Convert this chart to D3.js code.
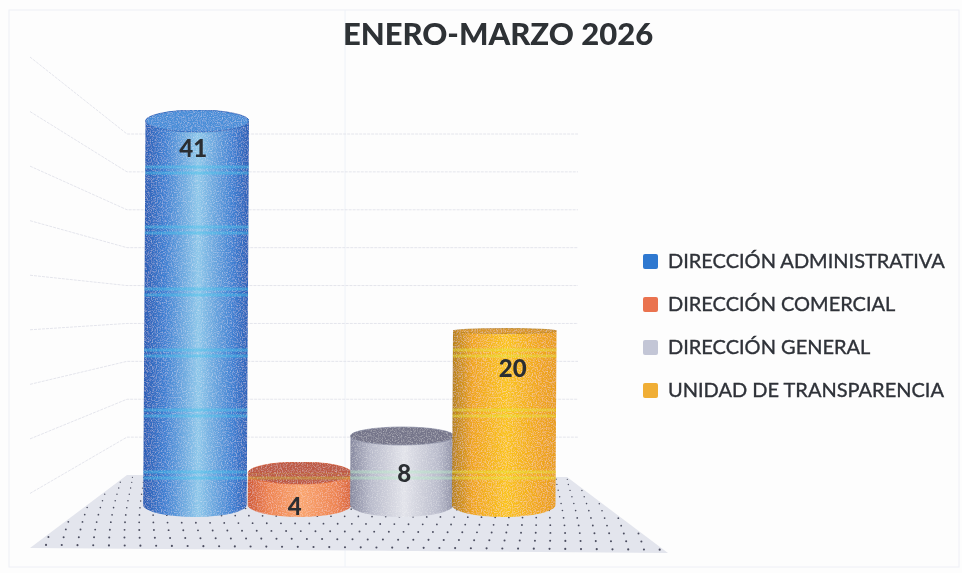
<!DOCTYPE html>
<html>
<head>
<meta charset="utf-8">
<script src="https://cdn.jsdelivr.net/npm/d3@7"></script>
<style>
  html, body { margin: 0; padding: 0; background: #fdfdfd; }
  svg { display: block; }
  text { font-family: Lato, "Open Sans", sans-serif; }
</style>
</head>
<body>
<div id="chart"></div>
<script>
const title = "ENERO-MARZO 2026";
const categories = [
  "DIRECCIÓN ADMINISTRATIVA",
  "DIRECCIÓN COMERCIAL",
  "DIRECCIÓN GENERAL",
  "UNIDAD DE TRANSPARENCIA",
];
const values = [41, 4, 8, 20];
const gridTicks = [5, 10, 15, 20, 25, 30, 35, 40, 45];

// edge, body, highlight, right edge, lid, streak
const palettes = [
  ["#2a5cb4", "#3f80d2", "#8fc8ea", "#2c5fb6", "#4a8ed8", "#45c4ea"],
  ["#cf5a36", "#ee8450", "#f9a56e", "#d8643a", "#bd5a45", "#c9b040"],
  ["#85879e", "#b9bbcb", "#e2e3ea", "#8e90a6", "#74758a", "#b8ecc8"],
  ["#b5801f", "#f0a61c", "#fac41a", "#e89e1c", "#d9982a", "#e4e83c"],
];
const legendFill = ["#2f78d0", "#ea7350", "#c3c6d6", "#f0ae35"];
// scan artefact: pale streaks that cross the cylinders
const streakRows = [170, 230, 292, 353, 413, 475];

const width = 962;
const height = 573;

const svg = d3
  .select("#chart")
  .append("svg")
  .attr("width", width)
  .attr("height", height);
const defs = svg.append("defs");

defs
  .append("filter")
  .attr("id", "soft")
  .append("feGaussianBlur")
  .attr("stdDeviation", 0.5);

const grain = defs
  .append("filter")
  .attr("id", "grain")
  .attr("x", 0)
  .attr("y", 0)
  .attr("width", 1)
  .attr("height", 1);
grain
  .append("feTurbulence")
  .attr("type", "fractalNoise")
  .attr("baseFrequency", 0.8)
  .attr("numOctaves", 2)
  .attr("seed", 4)
  .attr("result", "n");
grain
  .append("feColorMatrix")
  .attr("in", "n")
  .attr("type", "matrix")
  .attr("values", "0 0 0 0 1  0 0 0 0 1  0 0 0 0 1  0.8 0 0 0 -0.36")
  .attr("result", "speck");
grain
  .append("feComposite")
  .attr("in", "speck")
  .attr("in2", "SourceAlpha")
  .attr("operator", "in")
  .attr("result", "clipped");
const merge = grain.append("feMerge");
merge.append("feMergeNode").attr("in", "SourceGraphic");
merge.append("feMergeNode").attr("in", "clipped");

palettes.forEach((p, i) => {
  const g = defs
    .append("linearGradient")
    .attr("id", `cyl_${i}`)
    .attr("x1", 0)
    .attr("x2", 1)
    .attr("y1", 0)
    .attr("y2", 0);
  [
    [0, p[0]],
    [0.2, p[1]],
    [0.52, p[2]],
    [0.85, p[1]],
    [1, p[3]],
  ].forEach((s) =>
    g.append("stop").attr("offset", s[0]).attr("stop-color", s[1])
  );
});

// outer frame and the fold of the scanned sheet
const frame = svg.append("g").attr("filter", "url(#soft)");
frame
  .append("rect")
  .attr("x", 9)
  .attr("y", 10)
  .attr("width", 950)
  .attr("height", 557)
  .attr("fill", "none")
  .attr("stroke", "#eeeff6");
frame
  .append("line")
  .attr("x1", 345)
  .attr("x2", 345)
  .attr("y1", 10)
  .attr("y2", 567)
  .attr("stroke", "#eef2f8");

// walls: the back wall and the left wall each have their own scale
const yBack = d3.scaleLinear().domain([0, 45]).range([475, 134]);
const ySide = d3.scaleLinear().domain([0, 45]).range([548, 57]);
const backLeft = 127;
const backRight = 578;
const sideLeft = 30;

const walls = svg
  .append("g")
  .attr("fill", "none")
  .attr("stroke", "#e4e5ec")
  .attr("stroke-dasharray", "3 1")
  .attr("filter", "url(#soft)");
walls
  .selectAll("path")
  .data(gridTicks)
  .join("path")
  .attr(
    "d",
    (d) =>
      `M${sideLeft},${ySide(d)}L${backLeft},${yBack(d)}L${backRight},${yBack(d)}`
  );

// floor
const corners = { bl: [127, 475], br: [567, 477], fl: [30, 548], fr: [668, 553] };
const floor = svg.append("g").attr("filter", "url(#soft)");
floor
  .append("path")
  .attr(
    "d",
    d3.line()([corners.bl, corners.br, corners.fr, corners.fl]) + "Z"
  )
  .attr("fill", "#e3e5ed");

const rows = d3.range(11).map((i) => Math.pow((i + 0.6) / 11, 1.2));
const dots = rows.flatMap((t, r) =>
  d3.range(40).map((c) => {
    const l = d3.interpolate(corners.bl, corners.fl)(t);
    const e = d3.interpolate(corners.br, corners.fr)(t);
    return d3.interpolate(l, e)((c + (r % 2 ? 0.25 : 0.75)) / 40);
  })
);
floor
  .selectAll("circle")
  .data(dots)
  .join("circle")
  .attr("cx", (d) => d[0])
  .attr("cy", (d) => d[1])
  .attr("r", (d) => 0.6 + ((d[1] - 475) / 78) * 0.5)
  .attr("fill", "#4c4e60");

// cylinders
const x = d3.scaleBand().domain(categories).range([146, 556]);
// bar tops, the perspective is not linear
const yTop = d3
  .scaleLinear()
  .domain([0, 4, 8, 20, 41])
  .range([505, 473, 436, 331, 121]);
const rx = x.bandwidth() / 2 + 0.5;
const rxBase = 12;
const lidRy = (y) => Math.max(2.5, Math.min(11, Math.abs(y - 330) * 0.085));

const bars = svg
  .selectAll("g.bar")
  .data(values)
  .join("g")
  .attr("class", "bar")
  .attr("filter", "url(#soft)");

bars.each(function (v, i) {
  const cx = x(categories[i]) + x.bandwidth() / 2;
  const top = yTop(v);
  const base = yTop(0);
  const ry = lidRy(top);
  const lean = (base - top) * 0.006;
  const body = `M${cx - rx},${top}L${cx - rx - lean},${base}A${rx},${rxBase} 0 0 0 ${cx + rx - lean},${base}L${cx + rx},${top}A${rx},${ry} 0 0 0 ${cx - rx},${top}Z`;
  const g = d3.select(this);

  defs
    .append("clipPath")
    .attr("id", `clip_${i}`)
    .append("path")
    .attr("d", body + `M${cx - rx},${top}A${rx},${ry} 0 0 1 ${cx + rx},${top}Z`);

  const solid = g.append("g").attr("filter", "url(#grain)");
  solid.append("path").attr("d", body).attr("fill", `url(#cyl_${i})`);
  solid
    .append("ellipse")
    .attr("cx", cx)
    .attr("cy", top)
    .attr("rx", rx)
    .attr("ry", ry)
    .attr("fill", palettes[i][4])
    .attr("stroke", palettes[i][0])
    .attr("stroke-opacity", 0.7);

  g.append("g")
    .attr("clip-path", `url(#clip_${i})`)
    .selectAll("rect")
    .data(streakRows.flatMap((r) => [r - 3, r + 3]))
    .join("rect")
    .attr("x", cx - rx - 4)
    .attr("width", 2 * rx + 8)
    .attr("y", (d) => d - 1.5)
    .attr("height", 3)
    .attr("fill", palettes[i][5])
    .attr("opacity", 0.45);
});

// data labels
const labelShift = [
  [-4, 27],
  [-5, 33],
  [2, 37],
  [8, 37],
];
svg
  .append("g")
  .attr("filter", "url(#soft)")
  .selectAll("text")
  .data(values)
  .join("text")
  .attr("x", (d, i) => x(categories[i]) + x.bandwidth() / 2 + labelShift[i][0])
  .attr("y", (d, i) => yTop(d) + labelShift[i][1])
  .attr("dy", "0.36em")
  .attr("text-anchor", "middle")
  .attr("font-size", 24)
  .attr("font-weight", 900)
  .attr("fill", "#2b2e33")
  .text((d) => d);

// title
svg
  .append("text")
  .attr("x", 498)
  .attr("y", 45)
  .attr("text-anchor", "middle")
  .attr("font-size", 31)
  .attr("font-weight", 900)
  .attr("fill", "#2d3036")
  .attr("filter", "url(#soft)")
  .text(title);

// legend
const yLegend = d3.scalePoint().domain(categories).range([261, 390]);
const legend = svg
  .append("g")
  .attr("filter", "url(#soft)")
  .selectAll("g")
  .data(categories)
  .join("g")
  .attr("transform", (d) => `translate(643,${yLegend(d)})`);
legend
  .append("rect")
  .attr("x", 0)
  .attr("y", -7)
  .attr("width", 15)
  .attr("height", 15)
  .attr("rx", 2)
  .attr("fill", (d, i) => legendFill[i]);
legend
  .append("text")
  .attr("x", 25)
  .attr("dy", "0.36em")
  .attr("font-size", 20)
  .attr("stroke", "#2e3138")
  .attr("stroke-width", 0.35)
  .attr("fill", "#2e3138")
  .text((d) => d);
</script>
</body>
</html>
